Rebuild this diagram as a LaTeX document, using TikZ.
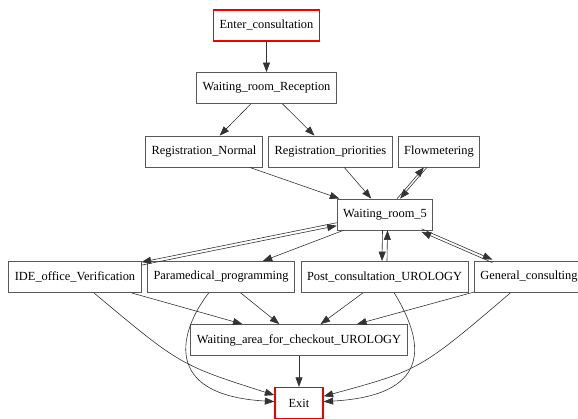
\documentclass[tikz,border=0pt]{standalone}
\usepackage{fontspec}
\setmainfont{Liberation Serif}
\usetikzlibrary{arrows.meta}

\tikzset{
  box/.style={draw=black!65, line width=0.8pt, fill=white, inner xsep=6pt,
    minimum height=31pt, minimum width=48pt, font=\fontsize{12.4}{14}\selectfont},
  endbox/.style={box, draw=red!95!black, line width=1.3pt},
  link/.style={-{Triangle[length=9.5pt,width=7pt]}, black!80, line width=0.6pt},
}

\begin{document}
\begin{tikzpicture}[x=1pt, y=-1pt]
                \useasboundingbox (0,0) rectangle (578,419);

                \node (enter) [endbox] at (266.5,25.5) {Enter\_consultation};
                \node (reception) [box] at (266.5,88) {Waiting\_room\_Reception};
                \node (regnormal) [box] at (204,151.5) {Registration\_Normal};
                \node (regprio) [box] at (330.5,151.5) {Registration\_priorities};
                \node (flow) [box] at (439,151.5) {Flowmetering};
                \node (wr5) [box] at (385,214.5) {Waiting\_room\_5};
                \node (ide) [box] at (75,277) {IDE\_office\_Verification};
                \node (para) [box] at (221,277) {Paramedical\_programming};
                \node (post) [box] at (384.5,277) {Post\_consultation\_UROLOGY};
                \node (general) [box] at (529,277) {General\_consulting};
                \node (waitarea) [box] at (299,340) {Waiting\_area\_for\_checkout\_UROLOGY};
                \node (exit) [endbox] at (299,403) {Exit};

                \path [link]
                    (enter) edge (reception)
                    (reception) edge (regnormal)
                    (reception) edge (regprio)
                    (regnormal) edge (wr5)
                    (regprio) edge (wr5)
                    (wr5) edge (para)
                    (ide) edge (waitarea)
                    (para) edge (waitarea)
                    (post) edge (waitarea)
                    (general) edge (waitarea)
                    (waitarea) edge (exit);

                % two-way links
                \draw [link, transform canvas={xshift=-1.5pt}] (wr5) -- (flow);
                \draw [link, transform canvas={xshift=1.5pt}] (flow) -- (wr5);
                \draw [link, transform canvas={yshift=1.5pt}] (wr5) -- (ide);
                \draw [link, transform canvas={yshift=-1.5pt}] (ide) -- (wr5);
                \draw [link] ([xshift=-2.5pt]wr5.south) -- ([xshift=-2.5pt]post.north);
                \draw [link] ([xshift=2.5pt]post.north) -- ([xshift=2.5pt]wr5.south);
                \draw [link, transform canvas={yshift=1.5pt}] (wr5) -- (general);
                \draw [link, transform canvas={yshift=-1.5pt}] (general) -- (wr5);

                % links to the exit
                \draw [link] (ide) .. controls (180,365) .. (exit);
                \draw [link] (para) .. controls (180,330) and (160,395) .. (exit);
                \draw [link] (post) .. controls (420,335) and (440,395) .. (exit);
                \draw [link] (general) .. controls (420,370) .. (exit);
            \end{tikzpicture}
\end{document}
